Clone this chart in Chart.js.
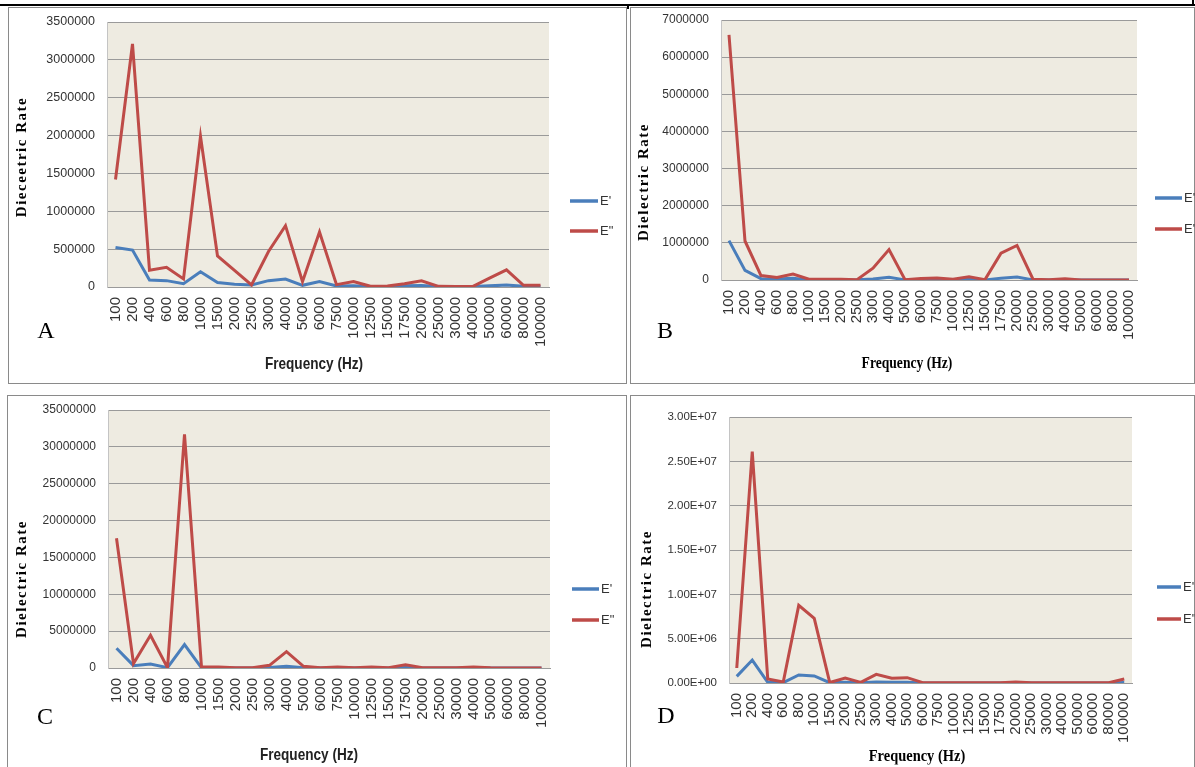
<!DOCTYPE html>
<html><head><meta charset="utf-8">
<script src="https://cdn.jsdelivr.net/npm/chart.js@4"></script>
<style>
html,body{margin:0;padding:0;background:#fff;}
body{width:1195px;height:767px;overflow:hidden;position:relative;}
.box{position:absolute;border:1px solid #8a8a8a;box-sizing:border-box;}
.blk{position:absolute;background:#000;}
canvas{position:absolute;}
.t{position:absolute;white-space:nowrap;line-height:1;color:#000;}
.yt{font-family:'Liberation Serif',serif;font-weight:bold;font-size:15px;letter-spacing:1.5px;transform:translate(-50%,-50%) rotate(-90deg);}
.xs{font-family:'Liberation Sans',sans-serif;font-weight:bold;font-size:17px;transform:translate(-50%,-50%) scaleX(0.8);color:#222;}
.xr{font-family:'Liberation Serif',serif;font-weight:bold;font-size:16px;transform:translate(-50%,-50%) scaleX(0.85);}
.lt{font-family:'Liberation Serif',serif;font-size:24px;transform:translate(-50%,-50%);}
</style></head><body>

<div class="blk" style="left:0;top:4px;width:1195px;height:2px"></div>
<div class="blk" style="left:1192px;top:0;width:2px;height:6px"></div>
<div class="blk" style="left:627px;top:5px;width:2px;height:4px"></div>

<div class="box" style="left:8px;top:7px;width:619px;height:377px"></div>
<div class="box" style="left:630px;top:7px;width:565px;height:377px"></div>
<div class="box" style="left:7px;top:395px;width:620px;height:380px"></div>
<div class="box" style="left:630px;top:395px;width:565px;height:380px"></div>

<canvas id="cA" width="628" height="390" style="left:0;top:0"></canvas>
<canvas id="cB" width="567" height="390" style="left:628px;top:0"></canvas>
<canvas id="cC" width="628" height="377" style="left:0;top:390px"></canvas>
<canvas id="cD" width="567" height="377" style="left:628px;top:390px"></canvas>

<div class="t yt" style="left:21px;top:157px">Dieceetric Rate</div>
<div class="t yt" style="left:643px;top:182px">Dielectric Rate</div>
<div class="t yt" style="left:21px;top:579px">Dielectric Rate</div>
<div class="t yt" style="left:646px;top:589px">Dielectric Rate</div>

<div class="t xs" style="left:314px;top:363px">Frequency (Hz)</div>
<div class="t xr" style="left:907px;top:363px">Frequency (Hz)</div>
<div class="t xs" style="left:309px;top:754px">Frequency (Hz)</div>
<div class="t xr" style="left:917px;top:755px;font-size:17px">Frequency (Hz)</div>

<div class="t lt" style="left:46px;top:330px">A</div>
<div class="t lt" style="left:665px;top:330px">B</div>
<div class="t lt" style="left:45px;top:716px">C</div>
<div class="t lt" style="left:666px;top:715px">D</div>

<script>
// ---------- data ----------
const categories = ['100','200','400','600','800','1000','1500','2000','2500','3000','4000','5000','6000','7500','10000','12500','15000','17500','20000','25000','30000','40000','50000','60000','80000','100000'];
const seriesNames = ["E'", 'E"'];

const aE1 = [522000,487000,93000,84000,44000,200000,58000,35000,27000,84000,106000,22000,71000,13000,18000,4000,4000,15000,20000,5000,3000,5000,15000,25000,10000,5000];
const aE2 = [1420000,3210000,221000,261000,106000,1990000,411000,220000,27000,469000,810000,71000,726000,31000,71000,9000,13000,43000,83000,9000,5000,5000,117000,226000,22000,22000];

const bE1 = [1060000,260000,35000,25000,50000,3000,3000,3000,5000,25000,75000,3000,10000,10000,3000,20000,3000,50000,80000,3000,1000,1000,1000,1000,1000,1000];
const bE2 = [6600000,1050000,120000,70000,160000,20000,20000,20000,10000,320000,820000,10000,40000,55000,20000,90000,10000,720000,930000,20000,5000,35000,3000,2000,2000,2000];

const cE1 = [2670000,317000,543000,50000,3170000,20000,20000,10000,10000,80000,230000,20000,10000,10000,10000,10000,10000,60000,10000,5000,5000,5000,5000,5000,5000,5000];
const cE2 = [17600000,600000,4430000,50000,31700000,150000,130000,50000,50000,360000,2220000,230000,50000,130000,50000,130000,50000,450000,50000,50000,50000,120000,20000,10000,10000,10000];

const dE1 = [750000,2590000,75000,40000,900000,790000,30000,75000,30000,110000,75000,75000,10000,10000,10000,10000,10000,10000,10000,10000,10000,10000,10000,10000,10000,50000];
const dE2 = [1690000,26100000,450000,110000,8760000,7290000,50000,560000,75000,980000,530000,600000,40000,20000,20000,20000,20000,30000,110000,30000,30000,30000,30000,30000,30000,450000];

const yTicksA = [0,500000,1000000,1500000,2000000,2500000,3000000,3500000];
const yLabelsA = ['0','500000','1000000','1500000','2000000','2500000','3000000','3500000'];
const yTicksB = [0,1000000,2000000,3000000,4000000,5000000,6000000,7000000];
const yLabelsB = ['0','1000000','2000000','3000000','4000000','5000000','6000000','7000000'];
const yTicksC = [0,5000000,10000000,15000000,20000000,25000000,30000000,35000000];
const yLabelsC = ['0','5000000','10000000','15000000','20000000','25000000','30000000','35000000'];
const yTicksD = [0,5000000,10000000,15000000,20000000,25000000,30000000];
const yLabelsD = ['0.00E+00','5.00E+06','1.00E+07','1.50E+07','2.00E+07','2.50E+07','3.00E+07'];

// ---------- styling ----------
const BLUE = '#4A7EBB', RED = '#BE4B48';
const PLOT_BG = '#EEEBE1', GRID = '#9a9a9a';

const bgPlugin = {
  id:'plotbg',
  beforeDraw(chart){
    const a = chart.chartArea, ctx = chart.ctx;
    ctx.save(); ctx.fillStyle = PLOT_BG;
    ctx.fillRect(a.left, a.top, a.right-a.left, a.bottom-a.top);
    ctx.restore();
  }
};
function legendPlugin(leg){
  return {
    id:'leg',
    afterDraw(chart){
      const ctx = chart.ctx;
      ctx.save();
      chart.data.datasets.forEach((ds,i)=>{
        const y = leg.y[i];
        ctx.strokeStyle = ds.borderColor; ctx.lineWidth = 3.5; ctx.lineCap='butt';
        ctx.beginPath(); ctx.moveTo(leg.x1,y); ctx.lineTo(leg.x2,y); ctx.stroke();
        ctx.fillStyle = '#333'; ctx.font = "13px 'Liberation Sans'";
        ctx.textBaseline = 'middle'; ctx.textAlign='left';
        ctx.fillText(ds.label, leg.x2+2, y);
      });
      ctx.restore();
    }
  };
}

function makeChart(id, cfg){
  const cv = document.getElementById(id);
  const W = cv.width, H = cv.height, a = cfg.area;
  new Chart(cv, {
    type:'line',
    data:{labels:categories, datasets:[
      {label:seriesNames[0], data:cfg.e1, borderColor:BLUE, backgroundColor:BLUE, order:1, borderWidth:3, pointRadius:0, tension:0, fill:false},
      {label:seriesNames[1], data:cfg.e2, borderColor:RED, backgroundColor:RED, order:0, borderWidth:3, pointRadius:0, tension:0, fill:false}
    ]},
    options:{
      responsive:false, animation:false, devicePixelRatio:1,
      layout:{padding:{left:0,right:W-a.r,top:a.t,bottom:0}},
      plugins:{legend:{display:false}, tooltip:{enabled:false}, title:{display:false}},
      scales:{
        x:{offset:true,
           grid:{display:false, drawTicks:false},
           border:{display:true, color:GRID, width:1},
           ticks:{autoSkip:false, minRotation:90, maxRotation:90, padding:10, color:'#333',
                  font:{family:'Liberation Sans', size:15}},
           afterFit(s){ s.height = H - a.b; }},
        y:{min:0, max:cfg.yTicks[cfg.yTicks.length-1],
           afterBuildTicks(s){ s.ticks = cfg.yTicks.map(v=>({value:v})); },
           grid:{color:GRID, lineWidth:1, drawTicks:false},
           border:{display:true, color:'#c4c4c4', width:1},
           ticks:{padding:12, color:'#333', font:{family:'Liberation Sans', size:cfg.yFont},
                  callback:(v,i)=>cfg.yLabels[i]},
           afterFit(s){ s.width = a.l; }}
      }
    },
    plugins:[bgPlugin, legendPlugin(cfg.legend)]
  });
}

makeChart('cA', {e1:aE1, e2:aE2, yTicks:yTicksA, yLabels:yLabelsA, yFont:12.5,
  area:{l:107, r:549, t:22, b:287}, legend:{x1:570, x2:598, y:[201,231]}});
makeChart('cB', {e1:bE1, e2:bE2, yTicks:yTicksB, yLabels:yLabelsB, yFont:12,
  area:{l:93, r:509, t:20, b:280}, legend:{x1:527, x2:554, y:[198,229]}});
makeChart('cC', {e1:cE1, e2:cE2, yTicks:yTicksC, yLabels:yLabelsC, yFont:12,
  area:{l:108, r:550, t:20, b:278}, legend:{x1:572, x2:599, y:[199,230]}});
makeChart('cD', {e1:dE1, e2:dE2, yTicks:yTicksD, yLabels:yLabelsD, yFont:11.5,
  area:{l:101, r:504, t:27, b:293}, legend:{x1:529, x2:553, y:[197,229]}});
</script>
</body></html>
